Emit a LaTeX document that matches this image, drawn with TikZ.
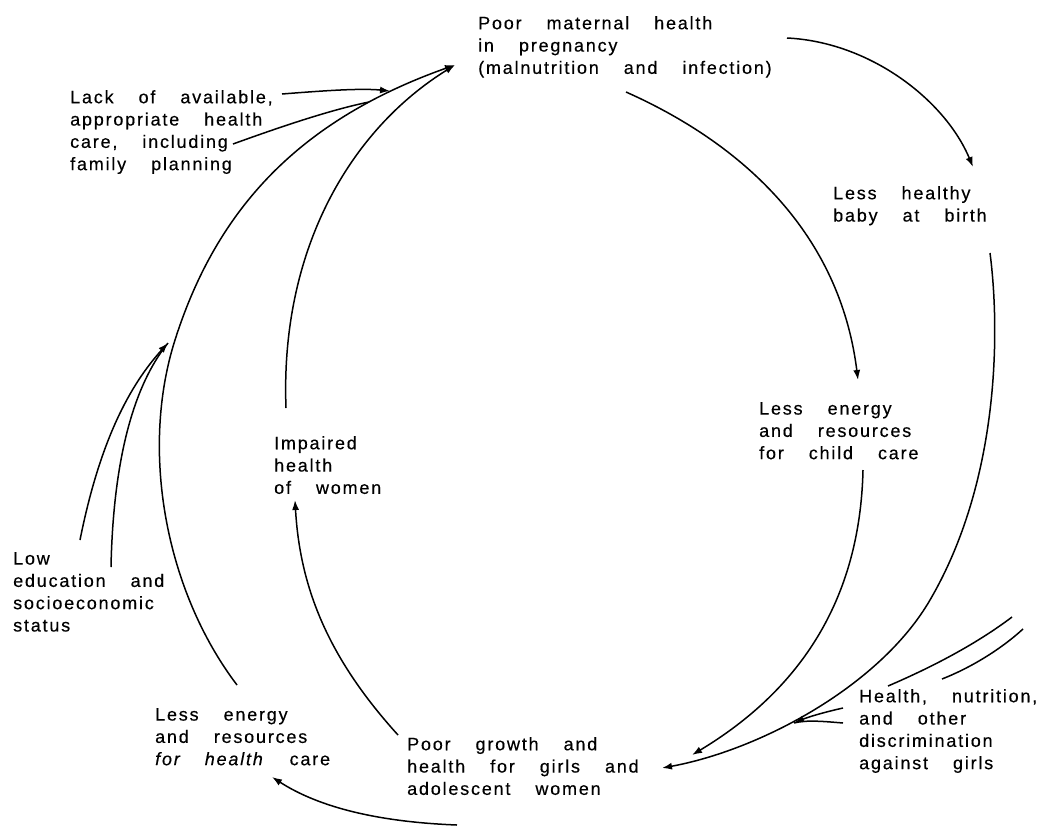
\documentclass[tikz,border=0pt]{standalone}
\usepackage{fontspec}
\setmainfont{Liberation Sans}[LetterSpace=10,FakeBold=0.4]
\usetikzlibrary{arrows.meta}
\newcommand\widespaces{\spaceskip=25pt\relax}
\tikzset{
  lbl/.style={anchor=north west, inner sep=0pt, align=left,
    font=\fontsize{18}{22.3}\selectfont, execute at begin node=\widespaces},
  conn/.style={line width=1.5pt},
  arr/.style={conn, -{Latex[length=10pt,width=7pt]}},
}
\begin{document}
\begin{tikzpicture}[x=1pt,y=-1pt]
\useasboundingbox (0,0) rectangle (1046,828);
% labels
\node[lbl] (mat) at (478,16) {Poor maternal health\\in pregnancy\\(malnutrition and infection)};
\node[lbl] (lack) at (70,90) {Lack of available,\\appropriate health\\care, including\\family planning};
\node[lbl] (baby) at (833,186) {Less healthy\\baby at birth};
\node[lbl] (child) at (759,402) {Less energy\\and resources\\for child care};
\node[lbl] (imp) at (274,436) {Impaired\\health\\of women};
\node[lbl] (low) at (13,552) {Low\\education and\\socioeconomic\\status};
\node[lbl] (hc) at (155,708) {Less energy\\and resources\\\textit{for health} care};
\node[lbl] (girls) at (407,737) {Poor growth and\\health for girls and\\adolescent women};
\node[lbl] (disc) at (859,689) {Health, nutrition,\\and other\\discrimination\\against girls};
% coordinates
\coordinate (a1) at (787,38); \coordinate (a2) at (973,167);
\coordinate (b1) at (626,92); \coordinate (b2) at (858,380);
\coordinate (c1) at (990,253); \coordinate (cm) at (930,600); \coordinate (c2) at (662,768);
\coordinate (d1) at (863,470); \coordinate (d2) at (692,755);
\coordinate (e1) at (843,708); \coordinate (e2) at (843,723); \coordinate (eh) at (794,723);
\coordinate (f1) at (1012,617); \coordinate (f2) at (888,686);
\coordinate (g1) at (1023,629); \coordinate (g2) at (942,679);
\coordinate (h1) at (398,735); \coordinate (h2) at (295,500);
\coordinate (i1) at (457,825); \coordinate (i2) at (272,777);
\coordinate (j1) at (237,685); \coordinate (jm) at (175,340); \coordinate (top) at (455,65);
\coordinate (k1) at (286,408);
\coordinate (l1) at (282,94); \coordinate (l2) at (390,91);
\coordinate (m1) at (233,144); \coordinate (m2) at (369,102);
\coordinate (n1) at (80,540); \coordinate (nh) at (168,343); \coordinate (n2) at (111,567);
% connectors
\draw[arr] (a1) .. controls (870,42) and (945,100) .. (a2);
\draw[arr] (b1) .. controls (745,145) and (840,235) .. (b2);
\draw[arr] (c1) .. controls (1000,330) and (1000,480) .. (cm) .. controls (880,686) and (760,750) .. (c2);
\draw[arr] (d1) .. controls (860,600) and (800,690) .. (d2);
\draw[arr] (e1) .. controls (825,712) and (808,717) .. (eh);
\draw[conn] (e2) .. controls (820,721) and (805,720) .. (eh);
\draw[conn] (f1) .. controls (975,645) and (930,668) .. (f2);
\draw[conn] (g1) .. controls (1000,650) and (970,668) .. (g2);
\draw[arr] (h1) .. controls (330,660) and (300,590) .. (h2);
\draw[arr] (i1) .. controls (380,822) and (320,808) .. (i2);
\draw[arr] (j1) .. controls (165,590) and (140,450) .. (jm) .. controls (217,208) and (300,120) .. (top);
\draw[arr] (k1) .. controls (280,250) and (350,130) .. (top);
\draw[arr] (l1) .. controls (320,91) and (360,88) .. (l2);
\draw[conn] (m1) .. controls (280,127) and (330,110) .. (m2);
\draw[arr] (n1) .. controls (100,440) and (130,385) .. (nh);
\draw[conn] (n2) .. controls (113,470) and (130,390) .. (nh);
\end{tikzpicture}
\end{document}
